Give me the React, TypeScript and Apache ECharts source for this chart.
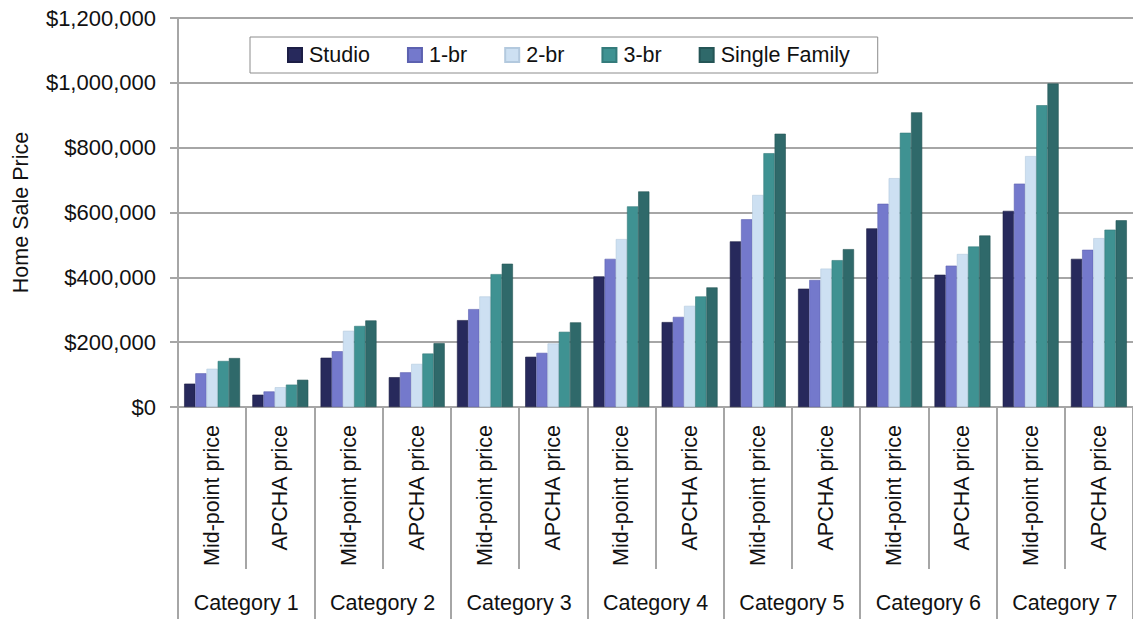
import React, { useEffect, useRef } from "react";
import * as echarts from "echarts";

const groups = ["Category 1", "Category 2", "Category 3", "Category 4", "Category 5", "Category 6", "Category 7"];
const priceTypes = ["Mid-point price", "APCHA price"];
const seriesNames = ["Studio", "1-br", "2-br", "3-br", "Single Family"];
const yTicks = [0, 200000, 400000, 600000, 800000, 1000000, 1200000];

// values per bar cluster: Cat1 Mid, Cat1 APCHA, Cat2 Mid, ...
const studio = [72000, 38000, 152000, 92000, 268000, 155000, 403000, 262000, 511000, 365000, 551000, 408000, 605000, 457000];
const oneBr = [104000, 48000, 172000, 107000, 302000, 167000, 457000, 278000, 579000, 392000, 627000, 436000, 689000, 485000];
const twoBr = [118000, 61000, 235000, 133000, 341000, 196000, 518000, 312000, 654000, 427000, 706000, 472000, 774000, 521000];
const threeBr = [142000, 69000, 250000, 165000, 410000, 232000, 619000, 341000, 783000, 453000, 846000, 495000, 931000, 547000];
const singleFamily = [151000, 84000, 267000, 197000, 442000, 261000, 665000, 369000, 843000, 487000, 909000, 529000, 998000, 576000];

const seriesValues = [studio, oneBr, twoBr, threeBr, singleFamily];
const colors = ["#27295c", "#7479cc", "#cde0f2", "#3f9292", "#2f696a"];
const borders = ["#1c1e45", "#5c61b0", "#b3c9de", "#347b7b", "#255556"];

const FONT = "'Liberation Sans', Arial, sans-serif";
const GRID = "#a6a6a6";

export default function App() {
  const ref = useRef<HTMLDivElement>(null);
  useEffect(() => {
    if (!ref.current) return;
    const chart = echarts.init(ref.current, null, { renderer: "svg" });
    const innerCats: string[] = [];
    groups.forEach(() => priceTypes.forEach((p) => innerCats.push(p)));
    chart.setOption({
      animation: false,
      backgroundColor: "#ffffff",
      textStyle: { fontFamily: FONT },
      grid: { left: 178, right: 0, top: 18, bottom: 212, containLabel: false },
      legend: {
        top: 37,
        left: 250,
        padding: [7, 28, 7, 37],
        itemGap: 37,
        itemWidth: 14,
        itemHeight: 14,
        icon: "rect",
        borderColor: "#8c8c8c",
        borderWidth: 1,
        backgroundColor: "#ffffff",
        textStyle: { fontSize: 21.5, color: "#111", fontFamily: FONT, padding: [0, 0, 0, 2] },
        data: seriesNames,
      },
      xAxis: [
        {
          type: "category",
          data: innerCats,
          position: "bottom",
          axisLine: { show: true, lineStyle: { color: GRID, width: 2 } },
          axisTick: { show: true, interval: 0, length: 162, lineStyle: { color: GRID, width: 2 } },
          axisLabel: { interval: 0, rotate: 90, margin: 18, fontSize: 21.5, color: "#111", fontFamily: FONT },
        },
        {
          type: "category",
          data: groups,
          position: "bottom",
          axisLine: { show: false },
          axisTick: { show: true, interval: 0, length: 212, lineStyle: { color: GRID, width: 2 } },
          axisLabel: { interval: 0, margin: 185, fontSize: 21.5, color: "#111", fontFamily: FONT },
        },
      ],
      yAxis: {
        type: "value",
        min: yTicks[0],
        max: yTicks[yTicks.length - 1],
        interval: 200000,
        name: "Home Sale Price",
        nameLocation: "middle",
        nameGap: 146,
        nameRotate: 90,
        nameTextStyle: { fontSize: 21.5, color: "#111", fontFamily: FONT },
        axisLine: { show: true, lineStyle: { color: GRID, width: 2 } },
        axisTick: { show: true, length: 8, lineStyle: { color: GRID, width: 2 } },
        splitLine: { show: true, lineStyle: { color: GRID, width: 2 } },
        axisLabel: {
          fontSize: 22,
          color: "#111",
          margin: 22,
          fontFamily: FONT,
          formatter: (v: number) => "$" + v.toLocaleString("en-US"),
        },
      },
      series: seriesNames.map((name, i) => ({
        name,
        type: "bar",
        xAxisIndex: 0,
        data: seriesValues[i],
        barGap: "0%",
        barCategoryGap: "18%",
        itemStyle: { color: colors[i], borderColor: borders[i], borderWidth: 0.6 },
      })),
    });
    return () => chart.dispose();
  }, []);
  return (
    <div
      ref={ref}
      style={{ position: "fixed", left: 0, top: 0, width: 1133, height: 619, background: "#fff" }}
    />
  );
}
